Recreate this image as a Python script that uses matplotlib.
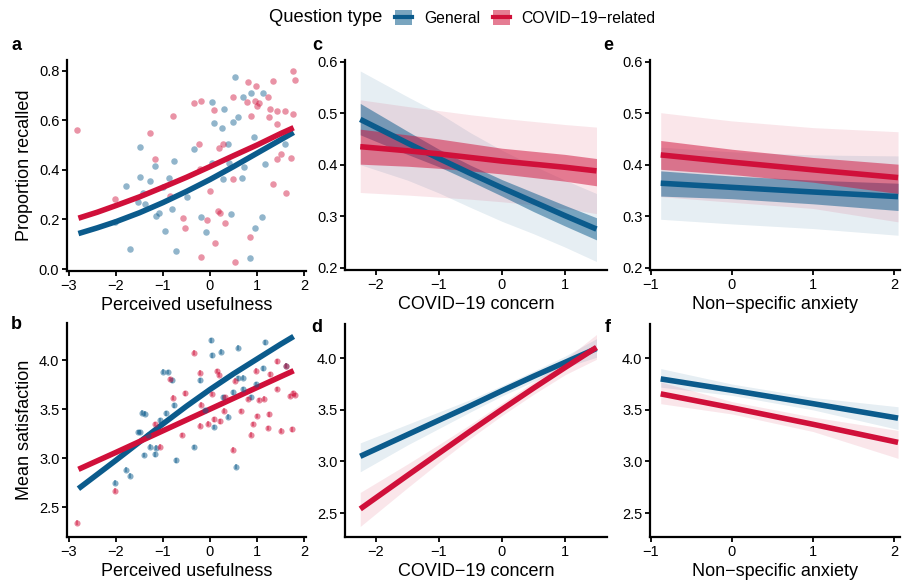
import matplotlib
matplotlib.use("Agg")
import matplotlib.pyplot as plt
from matplotlib.patches import Patch
from matplotlib.lines import Line2D

plt.rcParams['font.family'] = ['Liberation Sans', 'DejaVu Sans']

BLUE = '#0B5B8C'
RED = '#D0103A'

# ---- panel a: proportion recalled vs perceived usefulness ----
a_gen_x = [-2.03, -1.79, -1.70, -1.49, -1.49, -1.43, -1.39, -1.53, -1.27, -1.18, -1.14, -1.01,
           -1.08, -0.95, -0.88, -0.80, -0.76, -0.72, -0.48, -0.33, -0.20, -0.09, 0.04, 0.04,
           0.09, 0.29, 0.26, 0.28, 0.39, 0.41, 0.45, 0.49, 0.54, 0.60, 0.70, 0.73, 0.69, 0.87,
           0.93, 0.96, 0.85, 1.13, 1.17, 1.11, 1.59]
a_gen_y = [0.19, 0.335, 0.081, 0.491, 0.372, 0.305, 0.261, 0.272, 0.354, 0.417, 0.215, 0.331,
           0.227, 0.153, 0.367, 0.243, 0.434, 0.074, 0.292, 0.483, 0.211, 0.151, 0.672, 0.429,
           0.590, 0.645, 0.569, 0.364, 0.506, 0.429, 0.223, 0.594, 0.773, 0.614, 0.695, 0.411,
           0.366, 0.709, 0.534, 0.165, 0.046, 0.709, 0.425, 0.211, 0.503]
a_cov_x = [-2.82, -2.02, -1.27, -1.18, -0.78, -0.85, -0.58, -0.54, -0.34, -0.19, -0.23, -0.20,
           -0.21, -0.06, 0.01, 0.09, 0.10, 0.16, 0.22, 0.20, 0.27, 0.31, 0.48, 0.53, 0.48, 0.81,
           0.79, 0.87, 0.86, 0.97, 0.95, 1.00, 1.05, 1.24, 1.27, 1.26, 1.34, 1.34, 1.42, 1.42,
           1.42, 1.51, 1.60, 1.62, 1.72, 1.76, 1.77, 1.81]
a_cov_y = [0.561, 0.282, 0.55, 0.442, 0.617, 0.294, 0.207, 0.167, 0.671, 0.678, 0.503, 0.047,
           0.405, 0.198, 0.315, 0.641, 0.106, 0.233, 0.227, 0.489, 0.503, 0.187, 0.692, 0.030,
           0.364, 0.756, 0.675, 0.618, 0.129, 0.738, 0.679, 0.657, 0.671, 0.695, 0.644, 0.614,
           0.760, 0.344, 0.636, 0.586, 0.444, 0.464, 0.636, 0.307, 0.449, 0.624, 0.80, 0.761]
a_fit_x = [-2.8, -2.4, -2, -1.5, -1, -0.5, 0, 0.5, 1, 1.5, 1.78]
a_fit_gen = [0.143, 0.166, 0.191, 0.227, 0.268, 0.313, 0.361, 0.413, 0.467, 0.521, 0.551]
a_fit_cov = [0.205, 0.229, 0.256, 0.291, 0.330, 0.370, 0.413, 0.457, 0.500, 0.546, 0.570]

# ---- panel b: mean satisfaction vs perceived usefulness ----
b_gen_x = [-2.03, -1.79, -1.70, -1.54, -1.49, -1.44, -1.39, -1.40, -1.32, -1.27, -1.16, -1.14,
           -1.07, -1.01, -0.89, -0.81, -0.94, -0.76, -0.73, -0.33, -0.21, -0.10, 0.03, 0.04,
           0.09, 0.24, 0.27, 0.38, 0.48, 0.55, 0.60, 0.70, 0.70, 0.87, 0.97, 1.12, 1.17, 0.59, 1.61]
b_gen_y = [2.751, 2.884, 2.822, 3.267, 3.267, 3.464, 3.454, 3.033, 3.237, 3.118, 3.040, 3.108,
           3.386, 3.881, 3.878, 3.796, 3.457, 3.539, 2.979, 3.114, 3.796, 3.491, 4.200, 4.047,
           3.318, 4.085, 3.620, 3.423, 3.671, 2.914, 4.125, 3.820, 3.705, 3.620, 3.756, 3.915,
           4.183, 3.813, 3.942]
b_cov_x = [-2.82, -2.02, -1.18, -1.06, -0.85, -0.78, -0.59, -0.54, -0.35, -0.21, -0.19, -0.21,
           -0.05, 0.04, 0.09, 0.15, 0.19, 0.22, 0.30, 0.31, 0.48, 0.53, 0.67, 0.80, 0.87, 0.91,
           0.97, 0.99, 1.04, 1.15, 1.24, 1.26, 1.28, 1.43, 1.42, 1.51, 1.61, 1.75, 1.76, 1.80, 1.70]
b_cov_y = [2.344, 2.670, 3.349, 3.118, 3.807, 3.617, 3.237, 3.661, 4.075, 3.871, 3.545, 3.331,
           3.352, 3.654, 3.396, 3.888, 3.851, 3.376, 3.484, 3.620, 3.087, 3.790, 3.481, 3.603,
           3.240, 3.349, 3.891, 3.430, 3.593, 3.606, 3.308, 3.447, 3.857, 3.986, 3.705, 3.281,
           3.942, 3.294, 3.661, 3.644, 3.634]
b_fit_x = [-2.8, -2, -1.5, -1, -0.5, 0, 0.5, 1, 1.5, 1.78]
b_fit_gen = [2.69, 2.98, 3.165, 3.35, 3.53, 3.70, 3.86, 4.01, 4.16, 4.24]
b_fit_cov = [2.887, 3.06, 3.17, 3.28, 3.39, 3.50, 3.61, 3.72, 3.83, 3.891]

# ---- panel c: proportion recalled vs COVID-19 concern ----
c_x = [-2.25, -1.5, -1, -0.5, 0, 0.5, 1, 1.5]
c_gen = [0.488, 0.442, 0.412, 0.383, 0.355, 0.328, 0.301, 0.275]
c_gen_in_lo = [0.458, 0.420, 0.396, 0.368, 0.339, 0.309, 0.281, 0.254]
c_gen_in_hi = [0.519, 0.465, 0.430, 0.399, 0.371, 0.346, 0.321, 0.297]
c_gen_out_lo = [0.400, 0.370, 0.345, 0.317, 0.290, 0.266, 0.240, 0.212]
c_gen_out_hi = [0.582, 0.532, 0.500, 0.462, 0.428, 0.398, 0.370, 0.344]
c_cov = [0.435, 0.427, 0.421, 0.414, 0.407, 0.401, 0.395, 0.388]
c_cov_in_lo = [0.401, 0.397, 0.393, 0.388, 0.382, 0.375, 0.368, 0.359]
c_cov_in_hi = [0.469, 0.458, 0.450, 0.441, 0.432, 0.426, 0.420, 0.412]
c_cov_out_lo = [0.346, 0.341, 0.337, 0.333, 0.328, 0.322, 0.315, 0.305]
c_cov_out_hi = [0.526, 0.513, 0.505, 0.497, 0.490, 0.484, 0.478, 0.473]

# ---- panel d: mean satisfaction vs COVID-19 concern ----
d_x = [-2.25, -1.5, -1, -0.5, 0, 0.5, 1, 1.5]
d_gen = [3.05, 3.26, 3.40, 3.54, 3.685, 3.825, 3.96, 4.095]
d_gen_lo = [2.90, 3.16, 3.32, 3.48, 3.635, 3.775, 3.91, 4.01]
d_gen_hi = [3.18, 3.36, 3.48, 3.60, 3.735, 3.875, 4.02, 4.19]
d_cov = [2.54, 2.865, 3.08, 3.295, 3.505, 3.71, 3.91, 4.105]
d_cov_lo = [2.37, 2.745, 2.99, 3.225, 3.445, 3.65, 3.84, 3.99]
d_cov_hi = [2.70, 2.975, 3.165, 3.36, 3.565, 3.77, 3.99, 4.23]

# ---- panel e: proportion recalled vs non-specific anxiety ----
e_x = [-0.88, 0, 1, 2.05]
e_gen = [0.364, 0.356, 0.347, 0.338]
e_gen_in_lo = [0.339, 0.334, 0.324, 0.311]
e_gen_in_hi = [0.388, 0.378, 0.370, 0.364]
e_gen_out_lo = [0.294, 0.285, 0.276, 0.263]
e_gen_out_hi = [0.434, 0.425, 0.419, 0.417]
e_cov = [0.419, 0.405, 0.390, 0.375]
e_cov_in_lo = [0.391, 0.381, 0.366, 0.344]
e_cov_in_hi = [0.447, 0.430, 0.414, 0.401]
e_cov_out_lo = [0.338, 0.327, 0.315, 0.289]
e_cov_out_hi = [0.501, 0.485, 0.472, 0.464]

# ---- panel f: mean satisfaction vs non-specific anxiety ----
f_x = [-0.88, 0, 1, 2.05]
f_gen = [3.80, 3.69, 3.56, 3.42]
f_gen_lo = [3.72, 3.64, 3.50, 3.31]
f_gen_hi = [3.90, 3.75, 3.62, 3.53]
f_cov = [3.655, 3.52, 3.36, 3.185]
f_cov_lo = [3.56, 3.46, 3.29, 3.03]
f_cov_hi = [3.77, 3.58, 3.43, 3.30]

W, H = 902, 583
fig = plt.figure(figsize=(W / 100, H / 100), dpi=100)


def px_axes(x0, x1, ytop, ybot):
    return fig.add_axes([x0 / W, 1 - ybot / H, (x1 - x0) / W, (ybot - ytop) / H])


def style(ax, xlim, ylim, xticks, yticks, xlabel, ylabel=None):
    ax.set_xlim(*xlim)
    ax.set_ylim(*ylim)
    ax.set_xticks(xticks)
    ax.set_yticks(yticks)
    ax.set_yticklabels(['{:.1f}'.format(v) for v in yticks])
    for s in ['top', 'right']:
        ax.spines[s].set_visible(False)
    for s in ['left', 'bottom']:
        ax.spines[s].set_linewidth(1.6)
    ax.tick_params(direction='out', length=3.5, width=1.3, labelsize=10.5, pad=2)
    ax.set_xlabel(xlabel, fontsize=13, labelpad=3)
    if ylabel:
        ax.set_ylabel(ylabel, fontsize=13, labelpad=4)


LW = 4.0

# a
ax = px_axes(67, 306, 60, 271)
ax.scatter(a_gen_x, a_gen_y, s=22, color=BLUE, alpha=0.45, lw=0)
ax.scatter(a_cov_x, a_cov_y, s=22, color=RED, alpha=0.45, lw=0)
ax.plot(a_fit_x, a_fit_gen, color=BLUE, lw=LW, solid_capstyle='butt')
ax.plot(a_fit_x, a_fit_cov, color=RED, lw=LW, solid_capstyle='butt')
style(ax, (-3.043, 2.043), (-0.008, 0.843), [-3, -2, -1, 0, 1, 2], [0, 0.2, 0.4, 0.6, 0.8],
      'Perceived usefulness', 'Proportion recalled')

# b
ax = px_axes(67, 306, 323, 537)
ax.errorbar(b_gen_x, b_gen_y, yerr=0.025, fmt='o', ms=4.4, color=BLUE, alpha=0.5,
            mew=0, elinewidth=1.2, capsize=0)
ax.errorbar(b_cov_x, b_cov_y, yerr=0.025, fmt='o', ms=4.4, color=RED, alpha=0.5,
            mew=0, elinewidth=1.2, capsize=0)
ax.plot(b_fit_x, b_fit_gen, color=BLUE, lw=LW, solid_capstyle='butt')
ax.plot(b_fit_x, b_fit_cov, color=RED, lw=LW, solid_capstyle='butt')
style(ax, (-3.043, 2.043), (2.198, 4.377), [-3, -2, -1, 0, 1, 2], [2.5, 3.0, 3.5, 4.0],
      'Perceived usefulness', 'Mean satisfaction')

# c
ax = px_axes(345, 607, 60, 270)
ax.fill_between(c_x, c_gen_out_lo, c_gen_out_hi, color=BLUE, alpha=0.1, lw=0)
ax.fill_between(c_x, c_cov_out_lo, c_cov_out_hi, color=RED, alpha=0.1, lw=0)
ax.fill_between(c_x, c_gen_in_lo, c_gen_in_hi, color=BLUE, alpha=0.5, lw=0)
ax.fill_between(c_x, c_cov_in_lo, c_cov_in_hi, color=RED, alpha=0.5, lw=0)
ax.plot(c_x, c_gen, color=BLUE, lw=LW, solid_capstyle='butt')
ax.plot(c_x, c_cov, color=RED, lw=LW, solid_capstyle='butt')
style(ax, (-2.492, 1.667), (0.1955, 0.6033), [-2, -1, 0, 1], [0.2, 0.3, 0.4, 0.5, 0.6],
      'COVID\u221219 concern')

# d
ax = px_axes(345, 607, 324, 537)
ax.fill_between(d_x, d_gen_lo, d_gen_hi, color=BLUE, alpha=0.1, lw=0)
ax.fill_between(d_x, d_cov_lo, d_cov_hi, color=RED, alpha=0.1, lw=0)
ax.plot(d_x, d_gen, color=BLUE, lw=LW, solid_capstyle='butt')
ax.plot(d_x, d_cov, color=RED, lw=LW, solid_capstyle='butt')
style(ax, (-2.492, 1.667), (2.268, 4.332), [-2, -1, 0, 1], [2.5, 3.0, 3.5, 4.0],
      'COVID\u221219 concern')

# e
ax = px_axes(650, 900, 60, 270)
ax.fill_between(e_x, e_gen_out_lo, e_gen_out_hi, color=BLUE, alpha=0.1, lw=0)
ax.fill_between(e_x, e_cov_out_lo, e_cov_out_hi, color=RED, alpha=0.1, lw=0)
ax.fill_between(e_x, e_gen_in_lo, e_gen_in_hi, color=BLUE, alpha=0.5, lw=0)
ax.fill_between(e_x, e_cov_in_lo, e_cov_in_hi, color=RED, alpha=0.5, lw=0)
ax.plot(e_x, e_gen, color=BLUE, lw=LW, solid_capstyle='butt')
ax.plot(e_x, e_cov, color=RED, lw=LW, solid_capstyle='butt')
style(ax, (-1.012, 2.074), (0.1955, 0.6033), [-1, 0, 1, 2], [0.2, 0.3, 0.4, 0.5, 0.6],
      'Non\u2212specific anxiety')

# f
ax = px_axes(650, 900, 324, 537)
ax.fill_between(f_x, f_gen_lo, f_gen_hi, color=BLUE, alpha=0.1, lw=0)
ax.fill_between(f_x, f_cov_lo, f_cov_hi, color=RED, alpha=0.1, lw=0)
ax.plot(f_x, f_gen, color=BLUE, lw=LW, solid_capstyle='butt')
ax.plot(f_x, f_cov, color=RED, lw=LW, solid_capstyle='butt')
style(ax, (-1.012, 2.074), (2.268, 4.332), [-1, 0, 1, 2], [2.5, 3.0, 3.5, 4.0],
      'Non\u2212specific anxiety')

# panel letters
for lab, (px, py) in zip('abcdef', [(16, 46), (16, 325), (317, 46), (317, 327), (608, 46), (608, 327)]):
    fig.text(px / W, 1 - py / H, lab, fontsize=13, fontweight='bold', ha='center', va='center')

# legend
fig.text(269 / W, 1 - 18 / H, 'Question type', fontsize=13.2, ha='left', va='center')
handles = [(Patch(facecolor=BLUE, alpha=0.55, lw=0), Line2D([], [], color=BLUE, lw=3)),
           (Patch(facecolor=RED, alpha=0.55, lw=0), Line2D([], [], color=RED, lw=3))]
fig.legend(handles, ['General', 'COVID\u221219\u2212related'], loc='center left',
           bbox_to_anchor=(395 / W, 1 - 18 / H), ncol=2, frameon=False, fontsize=11.3,
           handlelength=1.1, handleheight=1.1, handletextpad=0.75, columnspacing=0.8,
           borderaxespad=0, borderpad=0)

fig.savefig('out.png', dpi=100)
